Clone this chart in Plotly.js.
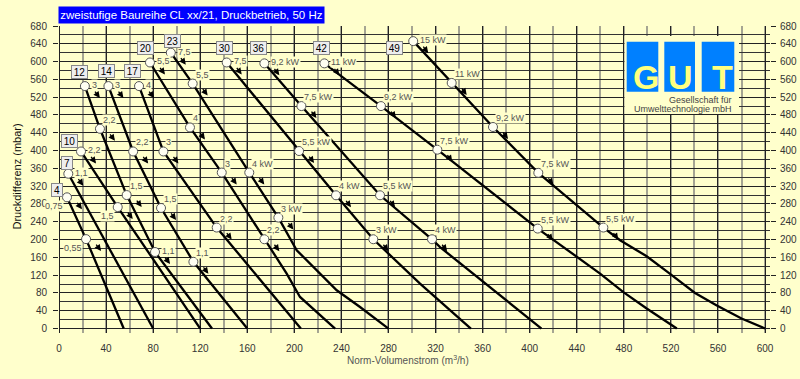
<!DOCTYPE html>
<html><head><meta charset="utf-8">
<script src="https://cdn.plot.ly/plotly-3.0.1.min.js"></script>
<style>html,body{margin:0;padding:0;background:#FFFFCC;} #chart{width:800px;height:379px;}</style>
</head><body><div id="chart"></div>
<script>
// ---- data (flow m3/h, pressure mbar, motor power labels) ----
const q4  = [6.8, 23, 55];
const p4  = [295, 201, 0];
const kw4 = ['0,75', '0,55', ''];

const q7  = [7.9, 80];
const p7  = [348, 0];
const kw7 = ['1,1', ''];

const q10  = [18.7, 49.9, 120];
const p10  = [398, 273, 0];
const kw10 = ['2,2', '1,5', ''];

const q12  = [22, 34.8, 57.5, 81.6, 130];
const p12  = [545, 449, 300, 172, 0];
const kw12 = ['3', '2,2', '1,5', '1,1', ''];

const q14  = [42, 63, 86.7, 114.2, 160];
const p14  = [545, 398, 271, 150, 0];
const kw14 = ['3', '2,2', '1,5', '1,1', ''];

const q17  = [68, 88.7, 134, 162.3, 205.5];
const p17  = [545, 398, 227, 138, 0];
const kw17 = ['4', '3', '2,2', '', ''];

const q20  = [77.3, 111.3, 138.3, 174.5, 193.5, 204.8, 234.6];
const p20  = [598, 452, 350.6, 200.7, 123.6, 71, 0];
const kw20 = ['5,5', '4', '3', '2,2', '', '', ''];

const q23  = [95, 113.6, 161.7, 186.4, 202, 219, 236, 255.8, 280];
const p23  = [620, 550.6, 350.6, 249.4, 176, 131, 86, 48.5, 0];
const kw23 = ['7,5', '5,5', '4 kW', '3 kW', '', '', '', '', ''];

const q30  = [142.5, 204, 235.4, 267.1, 306.8, 350];
const p30  = [598, 399, 299.5, 200.7, 101, 0];
const kw30 = ['7,5', '5,5 kW', '4 kW', '3 kW', '', ''];

const q36  = [174.5, 206, 272.8, 317, 323.8, 410];
const p36  = [596, 500, 299.5, 200.7, 183, 0];
const kw36 = ['9,2 kW', '7,5 kW', '5,5 kW', '4 kW', '', ''];

const q42  = [225.5, 273.6, 321.5, 406.8, 459.8, 479.6, 499.4, 525];
const p42  = [596, 500, 402, 224.7, 123.6, 82, 45, 0];
const kw42 = ['11 kW', '9,2 kW', '7,5 kW', '5,5 kW', '', '', '', ''];

const q49  = [301, 333.7, 368.8, 407.3, 462.6, 476.8, 499.4, 519, 540.5, 559, 580, 600];
const p49  = [646, 552, 453, 350, 227, 198.4, 162.5, 123.6, 80, 52, 22.5, 0];
const kw49 = ['15 kW', '11 kW', '9,2 kW', '7,5 kW', '5,5 kW', '', '', '', '', '', '', ''];

const modelNames = ['4', '7', '10', '12', '14', '17', '20', '23', '30', '36', '42', '49'];
const xTicks = [0, 40, 80, 120, 160, 200, 240, 280, 320, 360, 400, 440, 480, 520, 560, 600];
const yTicks = [0, 40, 80, 120, 160, 200, 240, 280, 320, 360, 400, 440, 480, 520, 560, 600, 640, 680];

const titleText = 'zweistufige Baureihe CL xx/21, Druckbetrieb, 50 Hz';
const xTitle = 'Norm-Volumenstrom (m<sup>3</sup>/h)';
const yTitle = 'Druckdifferenz (mbar)';
const logoLetters = ['G', 'U', 'T'];
const logoLines = ['Gesellschaft für', 'Umwelttechnologie mbH'];

// ---- styling / layout helpers ----
const BG = '#FFFFCC';
const FONT = 'Liberation Sans, Arial, sans-serif';
const L = 59, R = 30, T = 26, B = 46, W = 800, H = 379;
const PW = W - L - R, PH = H - T - B;
const px2x = px => (px - L) / PW;
const py2y = py => (H - B - py) / PH;

const curves = [
  [q4, p4, kw4], [q7, p7, kw7], [q10, p10, kw10], [q12, p12, kw12],
  [q14, p14, kw14], [q17, p17, kw17], [q20, p20, kw20], [q23, p23, kw23],
  [q30, p30, kw30], [q36, p36, kw36], [q42, p42, kw42], [q49, p49, kw49]
];

// box label offset (px) from start circle: [dx, dy(screen down)]
const boxOff = {
  '4': [-10, -7], '7': [-1, -11], '10': [-11.5, -10.5], '12': [-5.5, -14],
  '14': [-2, -15.5], '17': [-7, -15], '20': [-4.5, -14], '23': [1.5, -12],
  '30': [-2, -14], '36': [-6, -15], '42': [-3, -15], '49': [-18.5, 7]
};
// label placement exceptions
const labelPosOverride = {
  '4': ['bl', 'bl'], '10': ['r', 'bl'], '12': ['r', 'a', 'a', 'r']
};

const traces = [];
curves.forEach(([q, p]) => {
  traces.push({x: q, y: p, mode: 'lines', line: {color: '#000', width: 2.3},
    hoverinfo: 'skip', showlegend: false});
});
const annotations = [];
curves.forEach(([q, p, kw], ci) => {
  const name = modelNames[ci];
  const cx = [], cy = [];
  kw.forEach((lab, i) => {
    if (lab === '') return;
    cx.push(q[i]); cy.push(p[i]);
    const pos = (labelPosOverride[name] && labelPosOverride[name][i]) || (i === 0 ? 'r' : 'a');
    const a = {x: q[i], y: p[i], xref: 'x', yref: 'y', text: lab, showarrow: false,
      font: {family: FONT, size: 9, color: '#555'}, bgcolor: BG, borderpad: 0};
    if (pos === 'r') { Object.assign(a, {xanchor: 'left', yanchor: 'middle', xshift: 6, yshift: 1}); }
    else if (pos === 'a') { Object.assign(a, {xanchor: 'left', yanchor: 'middle', xshift: 2, yshift: 9}); }
    else { Object.assign(a, {xanchor: 'right', yanchor: 'middle', xshift: -3, yshift: -9}); }
    annotations.push(a);
    // direction arrow
    annotations.push({x: q[i], y: p[i], xref: 'x', yref: 'y', text: '', showarrow: true,
      xshift: 15, yshift: -12, ax: -6, ay: -8, axref: 'pixel', ayref: 'pixel',
      arrowhead: 2, arrowsize: 1, arrowwidth: 1.3, arrowcolor: '#000'});
  });
  traces.push({x: cx, y: cy, mode: 'markers', hoverinfo: 'skip', showlegend: false,
    marker: {size: 9, color: '#FFFFF2', line: {color: '#555', width: 1}}});
  // model box
  const off = boxOff[name];
  annotations.push({x: q[0], y: p[0], xref: 'x', yref: 'y', text: name, showarrow: false,
    xshift: off[0], yshift: -off[1], xanchor: 'center', yanchor: 'middle',
    width: name.length > 1 ? 15 : 10, height: 12, bgcolor: '#EEEEEE', bordercolor: '#888',
    borderwidth: 1, borderpad: 0, font: {family: FONT, size: 10, color: '#000'}});
});
// dummy trace for right axis
traces.push({x: [0], y: [0], yaxis: 'y2', mode: 'markers', marker: {opacity: 0}, hoverinfo: 'skip', showlegend: false});

// title box
annotations.push({xref: 'paper', yref: 'paper', x: px2x(58), y: py2y(15), xanchor: 'left', yanchor: 'middle',
  text: titleText, showarrow: false, width: 265, height: 16, bgcolor: '#0000FF', borderpad: 0,
  font: {family: FONT, size: 11.5, color: '#FFFFFF'}});
// axis titles
annotations.push({xref: 'paper', yref: 'paper', x: px2x(408), y: py2y(360), text: xTitle, showarrow: false,
  xanchor: 'center', yanchor: 'middle', font: {family: FONT, size: 10, color: '#555'}});
annotations.push({xref: 'paper', yref: 'paper', x: px2x(16.5), y: py2y(177), text: yTitle, showarrow: false,
  textangle: -90, xanchor: 'center', yanchor: 'middle', font: {family: FONT, size: 11, color: '#111'}});

// logo
const shapes = [];
shapes.push({type: 'rect', xref: 'paper', yref: 'paper', x0: px2x(624.5), x1: px2x(739), y0: py2y(114), y1: py2y(36),
  fillcolor: BG, line: {width: 0}, layer: 'above'});
const sq = [[626.7, 658.3], [664.3, 695], [701.7, 734.3]];
const letterX = [645.8, 680.8, 722.5];
sq.forEach((s, i) => {
  shapes.push({type: 'rect', xref: 'paper', yref: 'paper', x0: px2x(s[0]), x1: px2x(s[1]), y0: py2y(91.7), y1: py2y(41.7),
    fillcolor: '#0080FF', line: {width: 0}, layer: 'above'});
  annotations.push({xref: 'paper', yref: 'paper', x: px2x(letterX[i]), y: py2y(91.5), xanchor: 'center', yanchor: 'bottom',
    yshift: -6, text: '<b>' + logoLetters[i] + '</b>', showarrow: false, font: {family: FONT, size: 34, color: '#FFFF80'}});
});
annotations.push({xref: 'paper', yref: 'paper', x: px2x(734.3), y: py2y(99.7), xanchor: 'right', yanchor: 'middle',
  text: logoLines[0], showarrow: false, font: {family: FONT, size: 9, color: '#444'}});
annotations.push({xref: 'paper', yref: 'paper', x: px2x(734.3), y: py2y(109.3), xanchor: 'right', yanchor: 'middle',
  text: logoLines[1], showarrow: false, font: {family: FONT, size: 9, color: '#444'}});

const tickFont = {family: FONT, size: 10, color: '#333'};
const layout = {
  width: W, height: H, margin: {l: L, r: R, t: T, b: B},
  paper_bgcolor: BG, plot_bgcolor: BG, showlegend: false,
  xaxis: {range: [0, 604.2], tickmode: 'array', tickvals: xTicks, ticktext: xTicks.map(String),
    showgrid: true, gridcolor: '#222', gridwidth: 1, zeroline: true, zerolinecolor: '#222', zerolinewidth: 1,
    minor: {tickmode: 'linear', tick0: 0, dtick: 20, showgrid: true, gridcolor: '#A5A592', gridwidth: 2},
    ticks: '', tickfont: tickFont, ticklabelstandoff: 8, fixedrange: true},
  yaxis: {range: [-10, 680], tickmode: 'array', tickvals: yTicks, ticktext: yTicks.map(String),
    showgrid: true, gridcolor: '#222', gridwidth: 1, zeroline: false,
    minor: {tickmode: 'linear', tick0: 0, dtick: 20, showgrid: true, gridcolor: '#333', gridwidth: 1},
    ticks: 'outside', ticklen: 5, tickcolor: '#222', tickwidth: 1, tickfont: tickFont, ticklabelstandoff: 4, fixedrange: true},
  yaxis2: {range: [-10, 680], overlaying: 'y', side: 'right', anchor: 'x', tickmode: 'array', tickvals: yTicks,
    ticktext: yTicks.map(String), showgrid: false, zeroline: false, ticks: 'outside', ticklen: 5, tickcolor: '#222',
    tickwidth: 1, tickfont: tickFont, ticklabelstandoff: 2, fixedrange: true},
  annotations: annotations, shapes: shapes
};
Plotly.newPlot('chart', traces, layout, {displayModeBar: false, staticPlot: true});
</script></body></html>
